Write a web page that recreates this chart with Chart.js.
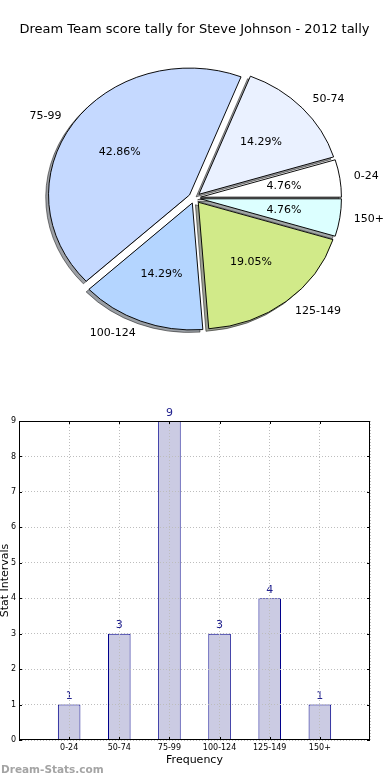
<!DOCTYPE html>
<html>
<head>
<meta charset="utf-8">
<script src="https://cdn.jsdelivr.net/npm/chart.js@4.4.0/dist/chart.umd.min.js"></script>
<style>
  body { margin: 0; background: #fff; width: 390px; height: 780px; position: relative; overflow: hidden; }
  #pieBox { position: absolute; left: 0; top: 0; width: 390px; height: 370px; }
  #barBox { position: absolute; left: 0; top: 380px; width: 390px; height: 400px; }
  #mark { position: absolute; left: 1px; top: 763px; font: bold 10.5px "DejaVu Sans"; line-height: 12px; color: #a4a4a4; }
</style>
</head>
<body>
<div id="pieBox"><canvas id="pie"></canvas></div>
<div id="barBox"><canvas id="bar"></canvas></div>
<div id="mark">Dream-Stats.com</div>
<script>
const title = 'Dream Team score tally for Steve Johnson - 2012 tally'
const categories = ['0-24', '50-74', '75-99', '100-124', '125-149', '150+']
const counts = [1, 3, 9, 3, 4, 1]
const yTicks = [0, 1, 2, 3, 4, 5, 6, 7, 8, 9]

const sliceColors = ['#ffffff', '#eaf1ff', '#c5d9ff', '#b4d5ff', '#d1ea89', '#dcffff']

Chart.defaults.font.family = '"DejaVu Sans", sans-serif'
Chart.defaults.color = '#000'
Chart.defaults.animation = false

const total = counts.reduce((a, b) => a + b, 0)

// chart.js goes clockwise, the original pie went anticlockwise from 3 o'clock
const pieLabels = categories.slice().reverse()
const pieCounts = counts.slice().reverse()
const pieColors = sliceColors.slice().reverse()

const squash = 0.9   // pie was drawn as an ellipse
const explode = 6    // px every slice is pushed out

const pieDecor = {
  id: 'pieDecor',
  afterDatasetsUpdate(chart) {
    chart.getDatasetMeta(0).data.forEach(a => {
      const mid = (a.startAngle + a.endAngle) / 2
      a.x += Math.cos(mid) * explode
      a.y += Math.sin(mid) * explode
    })
  },
  beforeDatasetsDraw(chart) {
    const { ctx, chartArea } = chart
    const cx = (chartArea.left + chartArea.right) / 2
    const cy = (chartArea.top + chartArea.bottom) / 2
    ctx.save()
    ctx.translate(cx, cy)
    ctx.scale(1, squash)
    ctx.translate(-cx, -cy)
    // shadows under everything
    const arcs = chart.getDatasetMeta(0).data
    const R = arcs[0].outerRadius
    ctx.save()
    ctx.translate(-0.02 * R, 0.02 * R)
    ctx.globalAlpha = 0.5
    ctx.filter = 'brightness(0.3)'
    arcs.forEach(a => a.draw(ctx))
    ctx.restore()
  },
  afterDatasetsDraw(chart) {
    const { ctx, chartArea } = chart
    ctx.restore()
    const cy = (chartArea.top + chartArea.bottom) / 2
    ctx.save()
    ctx.font = '11px "DejaVu Sans"'
    ctx.fillStyle = '#000'
    ctx.textBaseline = 'middle'
    chart.getDatasetMeta(0).data.forEach((a, i) => {
      const mid = (a.startAngle + a.endAngle) / 2
      const R = a.outerRadius
      const cos = Math.cos(mid)
      const sin = Math.sin(mid)
      ctx.textAlign = cos > 0 ? 'left' : 'right'
      ctx.fillText(pieLabels[i], a.x + cos * R * 1.1, cy + (a.y + sin * R * 1.1 - cy) * squash)
      ctx.textAlign = 'center'
      const pct = (pieCounts[i] / total * 100).toFixed(2) + '%'
      ctx.fillText(pct, a.x + cos * R * 0.6, cy + (a.y + sin * R * 0.6 - cy) * squash)
    })
    ctx.restore()
  }
}

new Chart(document.getElementById('pie'), {
  type: 'pie',
  data: {
    labels: pieLabels,
    datasets: [{
      data: pieCounts,
      backgroundColor: pieColors,
      borderColor: '#000',
      borderWidth: 1,
      clip: false
    }]
  },
  options: {
    responsive: true,
    maintainAspectRatio: false,
    radius: 141,
    rotation: 90,
    layout: { padding: { top: 0, bottom: 13.6, left: 0, right: 1 } },
    plugins: {
      legend: { display: false },
      tooltip: { enabled: false },
      title: {
        display: true,
        text: title,
        color: '#000',
        font: { size: 13, weight: 'normal' },
        padding: { top: 22, bottom: 2 }
      }
    }
  },
  plugins: [pieDecor]
})

const barDecor = {
  id: 'barDecor',
  afterDatasetsDraw(chart) {
    const { ctx } = chart
    ctx.save()
    ctx.font = '11px "DejaVu Sans"'
    ctx.fillStyle = '#22228f'
    ctx.textAlign = 'center'
    ctx.textBaseline = 'alphabetic'
    chart.getDatasetMeta(0).data.forEach((bar, i) => {
      ctx.fillText(String(counts[i]), bar.x, bar.y - 5.5)
    })
    ctx.restore()
  },
  afterDraw(chart) {
    const { ctx, chartArea: a, scales } = chart
    ctx.save()
    ctx.strokeStyle = '#000'
    ctx.lineWidth = 1
    ctx.beginPath()
    yTicks.forEach(v => {
      const y = Math.round(scales.y.getPixelForValue(v)) + 0.5
      ctx.moveTo(a.left, y); ctx.lineTo(a.left + 3, y)
      ctx.moveTo(a.right, y); ctx.lineTo(a.right - 3, y)
    })
    categories.forEach((c, i) => {
      const x = Math.round(scales.x.getPixelForValue(i + 1)) + 0.5
      ctx.moveTo(x, a.bottom); ctx.lineTo(x, a.bottom - 3)
      ctx.moveTo(x, a.top); ctx.lineTo(x, a.top + 3)
    })
    ctx.stroke()
    ctx.strokeRect(a.left + 0.5, a.top + 0.5, a.width - 1, a.height - 1)
    ctx.restore()
  }
}

new Chart(document.getElementById('bar'), {
  type: 'bar',
  data: {
    datasets: [{
      data: counts.map((v, i) => ({ x: i + 1, y: v })),
      backgroundColor: '#cbcbe3',
      borderColor: '#00008b',
      borderWidth: 1,
      barPercentage: 0.45,
      categoryPercentage: 1
    }]
  },
  options: {
    responsive: true,
    maintainAspectRatio: false,
    layout: { padding: { top: 41, right: 20, left: 0, bottom: 0 } },
    plugins: { legend: { display: false }, tooltip: { enabled: false } },
    scales: {
      x: {
        type: 'linear',
        min: 0,
        max: 7,
        offset: false,
        ticks: {
          stepSize: 1,
          autoSkip: false,
          maxRotation: 0,
          padding: 3,
          font: { size: 8 },
          callback: v => categories[v - 1] || ''
        },
        grid: { color: '#bdbdbd', drawTicks: false, offset: false, z: 1 },
        border: { display: false, dash: [1, 2] },
        title: { display: true, text: 'Frequency', font: { size: 11 }, padding: { top: 0, bottom: 13.4 } },
        afterFit: s => { s.height = 40 }
      },
      y: {
        min: 0,
        max: 9,
        afterBuildTicks: s => { s.ticks = yTicks.map(v => ({ value: v })) },
        ticks: { padding: 3, font: { size: 8 } },
        grid: { color: '#bdbdbd', drawTicks: false, z: 1 },
        border: { display: false, dash: [1, 2] },
        title: { display: true, text: 'Stat Intervals', font: { size: 11, lineHeight: 1 }, padding: 0 },
        afterFit: s => { s.width = 19 }
      }
    }
  },
  plugins: [barDecor]
})
</script>
</body>
</html>
